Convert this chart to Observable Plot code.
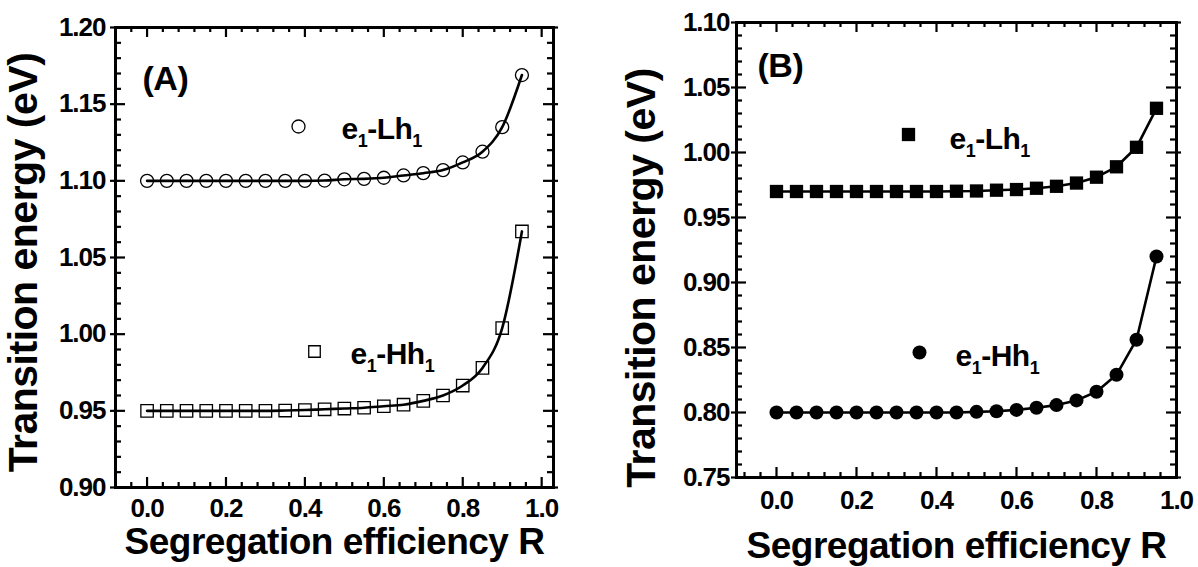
<!DOCTYPE html>
<html><head><meta charset="utf-8">
<script src="https://cdn.jsdelivr.net/npm/d3@7"></script>
<script src="https://cdn.jsdelivr.net/npm/@observablehq/plot@0.6"></script>
<style>
body{margin:0;background:#fff;}
#wrap{position:relative;width:1198px;height:567px;overflow:hidden;background:#fff;}
#pa{position:absolute;left:0;top:0;width:600px;height:567px;}
#pb{position:absolute;left:600px;top:0;width:598px;height:567px;}
</style></head><body>
<div id="wrap"><div id="pa"></div><div id="pb"></div></div>
<script>
// Segregation efficiency R (x values)
const R = [0, 0.05, 0.10, 0.15, 0.20, 0.25, 0.30, 0.35, 0.40, 0.45, 0.50, 0.55, 0.60, 0.65, 0.70, 0.75, 0.80, 0.85, 0.90, 0.95];
// Panel A series (eV)
const aLh = [1.100, 1.100, 1.100, 1.100, 1.100, 1.100, 1.100, 1.100, 1.100, 1.1002, 1.101, 1.1013, 1.102, 1.1035, 1.105, 1.107, 1.112, 1.119, 1.135, 1.169];
const aHh = [0.950, 0.950, 0.950, 0.950, 0.950, 0.950, 0.950, 0.9502, 0.9505, 0.951, 0.9515, 0.952, 0.953, 0.954, 0.9565, 0.960, 0.9665, 0.978, 1.004, 1.067];
// Panel B series (eV)
const bLh = [0.970, 0.970, 0.970, 0.970, 0.970, 0.970, 0.970, 0.970, 0.970, 0.9702, 0.9704, 0.971, 0.9715, 0.9725, 0.974, 0.9765, 0.981, 0.989, 1.004, 1.034];
const bHh = [0.800, 0.800, 0.800, 0.800, 0.800, 0.800, 0.800, 0.800, 0.800, 0.800, 0.8005, 0.801, 0.802, 0.8036, 0.8057, 0.8093, 0.816, 0.829, 0.856, 0.920];
// Tick labels
const xTicks = [0.0, 0.2, 0.4, 0.6, 0.8, 1.0];
const yTicksA = [0.90, 0.95, 1.00, 1.05, 1.10, 1.15, 1.20];
const yTicksB = [0.75, 0.80, 0.85, 0.90, 0.95, 1.00, 1.05, 1.10];
// Text
const xTitle = "Segregation efficiency R";
const yTitle = "Transition energy (eV)";
const seriesNames = ["e1-Lh1", "e1-Hh1"];
const panelTags = ["(A)", "(B)"];

const FONT = "'Liberation Sans', Arial, Helvetica, sans-serif";

function minors(dom, step, majors) {
  const out = [];
  const n0 = Math.ceil((dom[0] - 1e-9) / step), n1 = Math.floor((dom[1] + 1e-9) / step);
  for (let k = n0; k <= n1; k++) {
    const v = +(k * step).toFixed(6);
    if (!majors.some(m => Math.abs(m - v) < 1e-6)) out.push(v);
  }
  return out;
}

function panel(o) {
  const fw = o.width - o.ml - o.mr, fh = o.height - o.mt - o.mb;
  const xMaj = xTicks.filter(v => v >= o.xDom[0] - 1e-9 && v <= o.xDom[1] + 1e-9);
  const xMin = minors(o.xDom, 0.04, xMaj);
  const yMin = minors(o.yDom, 0.01, o.yTicks);
  const tw = 2.2;
  const marks = [
    Plot.axisX({ticks: xMaj, tickSize: 0, tickPadding: o.xPad, tickFormat: d => d.toFixed(1), label: null, fontSize: 26, fontWeight: "bold", letterSpacing: "-1px"}),
    Plot.axisY({ticks: o.yTicks, tickSize: 0, tickPadding: o.yPad, tickFormat: d => d.toFixed(2), label: null, fontSize: 26, fontWeight: "bold"}),
    // bottom / top ticks
    Plot.tickX(xMin, {x: d => d, insetTop: fh - 5, strokeWidth: tw}),
    Plot.tickX(xMaj, {x: d => d, insetTop: fh - 10, strokeWidth: tw}),
    Plot.tickX(xMin, {x: d => d, insetBottom: fh - 5, strokeWidth: tw}),
    Plot.tickX(xMaj, {x: d => d, insetBottom: fh - 10, strokeWidth: tw}),
    // left / right ticks
    Plot.tickY(yMin, {y: d => d, insetRight: fw - 6, strokeWidth: tw}),
    Plot.tickY(o.yTicks, {y: d => d, insetRight: fw - 10, insetLeft: -5, strokeWidth: tw}),
    Plot.tickY(yMin, {y: d => d, insetLeft: fw - 6, strokeWidth: tw}),
    Plot.tickY(o.yTicks, {y: d => d, insetLeft: fw - 10, insetRight: -5, strokeWidth: tw}),
    Plot.frame({strokeWidth: 3, stroke: "black"}),
  ];
  for (const s of o.series) {
    marks.push(Plot.line(s.values, {x: (d, i) => R[i], y: d => d, curve: o.curve, strokeWidth: 2.6, stroke: "black"}));
    marks.push(Plot.dot(s.values, {x: (d, i) => R[i], y: d => d, symbol: s.symbol, r: s.r, stroke: "black", fill: s.fill, strokeWidth: s.sw}));
    marks.push(Plot.dot([s.name], {frameAnchor: "top-left", dx: s.lx, dy: s.ly, symbol: s.symbol, r: s.lr, stroke: "black", fill: s.fill, strokeWidth: s.sw}));
    marks.push(Plot.text([s.name], {frameAnchor: "top-left", dx: s.tx, dy: s.ty, text: d => d, textAnchor: "start", lineAnchor: "bottom", fontSize: 30, fontWeight: "bold"}));
  }
  marks.push(Plot.text([o.tag], {frameAnchor: "top-left", dx: o.tagX, dy: o.tagY, text: d => d, textAnchor: "start", lineAnchor: "bottom", fontSize: 34, fontWeight: "bold"}));
  marks.push(Plot.text([xTitle], {frameAnchor: "bottom", dy: o.xtDy, text: d => d, textAnchor: "middle", lineAnchor: "bottom", fontSize: 37, fontWeight: "bold"}));
  marks.push(Plot.text([yTitle], {frameAnchor: "left", dx: o.ytDx, dy: o.ytDy, rotate: -90, text: d => d, textAnchor: "middle", lineAnchor: "middle", fontSize: 41, fontWeight: "bold"}));

  const svg = Plot.plot({
    width: o.width, height: o.height,
    marginLeft: o.ml, marginRight: o.mr, marginTop: o.mt, marginBottom: o.mb,
    x: {domain: o.xDom},
    y: {domain: o.yDom},
    style: {fontFamily: FONT, fontWeight: "bold", color: "black", background: "white", overflow: "visible", letterSpacing: "-0.5px"},
    marks
  });
  // subscripts in legend labels
  const NS = "http://www.w3.org/2000/svg";
  svg.querySelectorAll("text").forEach(t => {
    const s = t.textContent;
    if (/^e1-[LH]h1$/.test(s)) {
      t.textContent = "";
      const parts = [["e", 0, 30], ["1", 8, 18], ["-" + s[3] + "h", -8, 30], ["1", 8, 18]];
      for (const [txt, dy, fs] of parts) {
        const ts = document.createElementNS(NS, "tspan");
        ts.setAttribute("dy", dy);
        ts.setAttribute("font-size", fs);
        ts.textContent = txt;
        t.appendChild(ts);
      }
    }
  });
  svg.querySelectorAll("[aria-label='x-axis tick label'] text, [aria-label='y-axis tick label'] text").forEach(t => t.style.letterSpacing = "-1px");
  return svg;
}

document.getElementById("pa").appendChild(panel({
  width: 600, height: 567, ml: 115, mr: 47, mt: 27, mb: 80,
  xDom: [-0.08, 1.03], yDom: [0.90, 1.20], yTicks: yTicksA,
  xPad: 11, yPad: 10, curve: "monotone-x",
  tag: panelTags[0], tagX: 27, tagY: 62,
  xtDy: 66, ytDx: -92, ytDy: 5,
  series: [
    {values: aLh, name: seriesNames[0], symbol: "circle", r: 6.5, lr: 6.5, fill: "none", sw: 1.3, lx: 183, ly: 99, tx: 226, ty: 111},
    {values: aHh, name: seriesNames[1], symbol: "square", r: 7, lr: 6.5, fill: "none", sw: 1.3, lx: 199, ly: 324, tx: 235, ty: 336}
  ]
}));

document.getElementById("pb").appendChild(panel({
  width: 598, height: 567, ml: 136, mr: 22, mt: 22, mb: 90,
  xDom: [-0.10, 1.00], yDom: [0.75, 1.10], yTicks: yTicksB,
  xPad: 13, yPad: 7, curve: "linear",
  tag: panelTags[1], tagX: 21, tagY: 54,
  xtDy: 80, ytDx: -95, ytDy: 28,
  series: [
    {values: bLh, name: seriesNames[0], symbol: "square", r: 7.5, lr: 7.5, fill: "black", sw: 0, lx: 172, ly: 112, tx: 213, ty: 126},
    {values: bHh, name: seriesNames[1], symbol: "circle", r: 7, lr: 7, fill: "black", sw: 0, lx: 183, ly: 330, tx: 219, ty: 343}
  ]
}));
</script>
</body></html>
